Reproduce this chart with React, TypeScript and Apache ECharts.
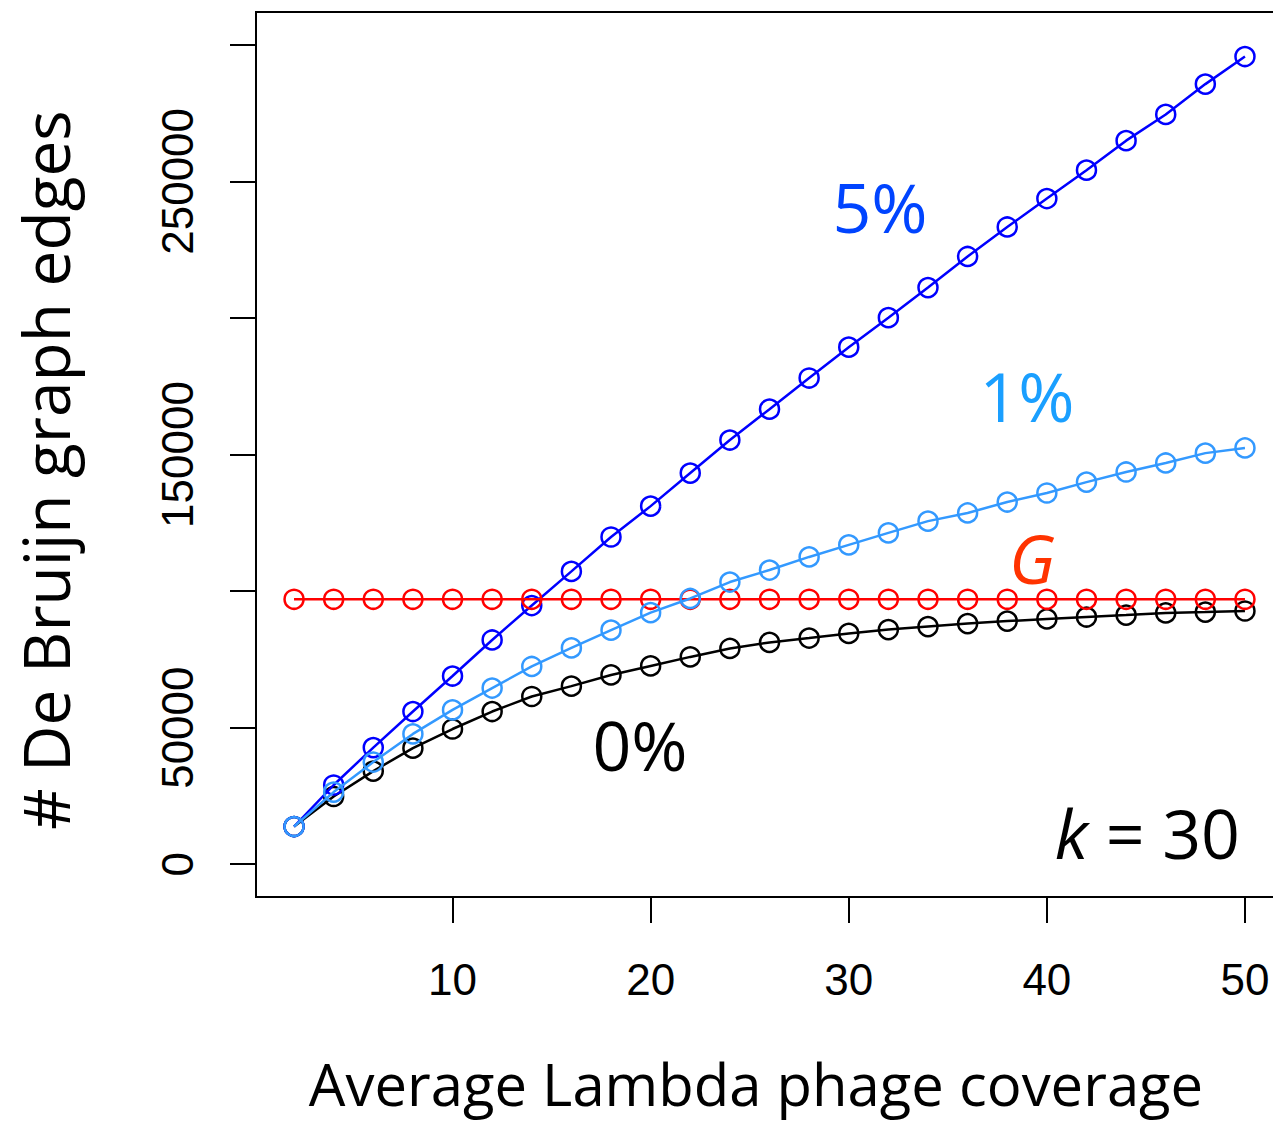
import React, { useEffect, useRef } from "react";
import * as echarts from "echarts";

const coverage = [2, 4, 6, 8, 10, 12, 14, 16, 18, 20, 22, 24, 26, 28, 30, 32, 34, 36, 38, 40, 42, 44, 46, 48, 50];

const edges5pct = [13800, 29000, 42700, 55900, 68900, 82100, 94700, 107200, 119800, 131100, 143200, 155300, 166600, 178000, 189300, 200100, 211100, 222500, 233300, 243700, 254100, 264900, 274500, 285600, 295700];

const edges1pct = [13800, 26400, 37400, 47700, 56500, 64500, 72400, 79200, 85700, 92100, 97300, 103300, 107700, 112500, 116900, 121300, 125600, 128600, 132600, 135900, 139900, 143600, 146900, 150500, 152400];

const edges0pct = [13800, 24800, 34100, 42500, 49500, 55900, 61400, 65200, 69300, 72600, 75900, 79000, 81200, 82800, 84500, 85900, 87000, 88100, 89000, 89800, 90500, 91200, 92000, 92300, 92700];

const genomeG = [97000, 97000, 97000, 97000, 97000, 97000, 97000, 97000, 97000, 97000, 97000, 97000, 97000, 97000, 97000, 97000, 97000, 97000, 97000, 97000, 97000, 97000, 97000, 97000, 97000];

const xTicks = [10, 20, 30, 40, 50];
const yTicks = [0, 50000, 100000, 150000, 200000, 250000, 300000];
const yLabels = [0, 50000, 150000, 250000];

const SANS = "'Open Sans', 'Noto Sans', sans-serif";
const ARIAL = "'Liberation Sans', Arial, sans-serif";

function lineSeries(name: string, values: number[], color: string, z: number) {
  return {
    type: "line",
    name,
    data: coverage.map((x, i) => [x, values[i]]),
    symbol: "circle",
    symbolSize: 19,
    showSymbol: true,
    showAllSymbol: true,
    lineStyle: { color, width: 2.5 },
    itemStyle: { color: "rgba(0,0,0,0)", borderColor: color, borderWidth: 2.5 },
    emphasis: { disabled: true },
    silent: true,
    z,
  };
}

export default function App() {
  const ref = useRef<HTMLDivElement>(null);
  useEffect(() => {
    if (!ref.current) return;
    const chart = echarts.init(ref.current, null, { renderer: "svg" });
    const option = {
      animation: false,
      backgroundColor: "#fff",
      grid: {
        left: 256,
        top: 12,
        right: 17,
        bottom: 224,
        show: true,
        borderColor: "#000",
        borderWidth: 2,
        backgroundColor: "rgba(0,0,0,0)",
        containLabel: false,
      },
      xAxis: {
        type: "value",
        min: 0.08,
        max: 51.92,
        splitLine: { show: false },
        axisLine: { show: true, onZero: false, lineStyle: { color: "#000", width: 2 } },
        axisTick: { show: true, length: 26, lineStyle: { color: "#000", width: 2 }, customValues: xTicks },
        axisLabel: {
          customValues: xTicks,
          formatter: (v: number) => String(v),
          fontSize: 44,
          fontFamily: ARIAL,
          color: "#000",
          margin: 60,
        },
      },
      yAxis: {
        type: "value",
        min: -12000,
        max: 312000,
        splitLine: { show: false },
        axisLine: { show: true, onZero: false, lineStyle: { color: "#000", width: 2 } },
        axisTick: { show: true, length: 26, lineStyle: { color: "#000", width: 2 }, customValues: yTicks },
        axisLabel: {
          customValues: yLabels,
          formatter: (v: number) => String(v),
          rotate: 90,
          fontSize: 44,
          fontFamily: ARIAL,
          color: "#000",
          margin: 57,
        },
      },
      series: [
        lineSeries("0%", edges0pct, "#000000", 2),
        lineSeries("5%", edges5pct, "#0000ff", 3),
        lineSeries("G", genomeG, "#ff0000", 4),
        lineSeries("1%", edges1pct, "#3399ff", 5),
      ],
      graphic: [
        {
          type: "text",
          x: 45,
          y: 470,
          rotation: Math.PI / 2,
          style: {
            text: "# De Bruijn graph edges",
            fontSize: 64,
            fontFamily: SANS,
            fill: "#000",
            align: "center",
            verticalAlign: "middle",
          },
        },
        {
          type: "text",
          x: 756,
          y: 1083,
          style: {
            text: "Average Lambda phage coverage",
            fontSize: 58,
            lineHeight: 58,
            fontFamily: SANS,
            fill: "#000",
            align: "center",
            verticalAlign: "middle",
          },
        },
        {
          type: "text",
          x: 880,
          y: 206,
          style: { text: "5%", fontSize: 68, fontFamily: SANS, fill: "#0044ff", align: "center", verticalAlign: "middle" },
        },
        {
          type: "text",
          x: 1027,
          y: 395,
          style: { text: "1%", fontSize: 68, fontFamily: SANS, fill: "#1a9fff", align: "center", verticalAlign: "middle" },
        },
        {
          type: "text",
          x: 1032,
          y: 557,
          style: { text: "G", fontSize: 68, fontStyle: "italic", fontFamily: SANS, fill: "#ff3300", align: "center", verticalAlign: "middle" },
        },
        {
          type: "text",
          x: 640,
          y: 744,
          style: { text: "0%", fontSize: 68, fontFamily: SANS, fill: "#000", align: "center", verticalAlign: "middle" },
        },
        {
          type: "text",
          x: 1240,
          y: 832,
          style: {
            text: "{i|k} = 30",
            fontSize: 68,
            fontFamily: SANS,
            fill: "#000",
            align: "right",
            verticalAlign: "middle",
            rich: {
              i: { fontSize: 68, fontFamily: SANS, fontStyle: "italic", fill: "#000" },
            },
          },
        },
      ],
    };
    chart.setOption(option as any);
    return () => chart.dispose();
  }, []);
  return (
    <div style={{ position: "fixed", left: 0, top: 0, width: 1273, height: 1121, overflow: "hidden", background: "#fff" }}>
      <div ref={ref} style={{ width: 1300, height: 1121 }} />
    </div>
  );
}
